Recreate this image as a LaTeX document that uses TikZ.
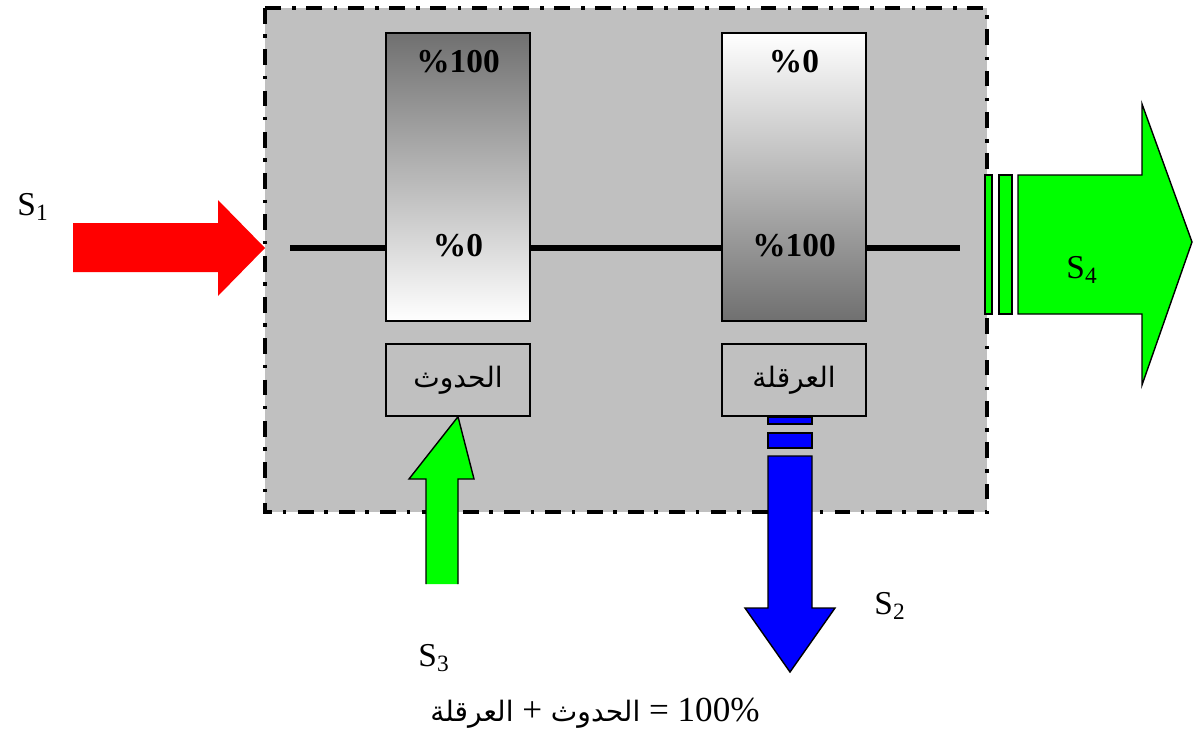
\documentclass[tikz,border=0pt]{standalone}
\usepackage{fontspec}
\setmainfont{Liberation Serif}
\newfontfamily\arabicfont[Script=Arabic]{DejaVu Sans}
\TeXXeTstate=1
\definecolor{boxgray}{RGB}{192,192,192}
\definecolor{bardark}{RGB}{112,112,112}
\definecolor{sgreen}{RGB}{0,255,0}
\definecolor{sred}{RGB}{255,0,0}
\definecolor{sblue}{RGB}{0,0,255}
\tikzset{
  frame/.style={fill=boxgray, draw=black, line width=2.3pt,
    dash pattern=on 9pt off 6pt on 2pt off 6.5pt},
  bar/.style={draw=black, line width=0.8pt},
  labelbox/.style={draw=black, line width=0.8pt, fill=boxgray, minimum width=144*0.02cm,
    minimum height=72*0.02cm, inner sep=0pt, font=\fontsize{16}{19}\selectfont\arabicfont},
  pct/.style={font=\fontsize{19}{22}\selectfont\bfseries, inner sep=0pt},
  flow/.style={draw=black, line width=0.8pt},
  slabel/.style={font=\fontsize{19}{22}\selectfont, inner sep=0pt},
}
\begin{document}
\begin{tikzpicture}[x=0.02cm,y=-0.02cm]
\useasboundingbox (0,0) rectangle (1193,740);
% system boundary
\path[frame] (265,8) rectangle (987,512);
% coordinates
\coordinate (lineL) at (290,248);
\coordinate (lineR) at (960,248);
\draw[line width=3.4pt] (lineL) -- (lineR);
% bars
\shade[top color=bardark, bottom color=white] (386,33) rectangle (530,321);
\draw[bar] (386,33) rectangle (530,321);
\shade[top color=white, bottom color=bardark] (722,33) rectangle (866,321);
\draw[bar] (722,33) rectangle (866,321);
\node[pct] (l100) at (458,62) {\%100};
\node[pct] (l0) at (458,246) {\%0};
\node[pct] (r0) at (794,62) {\%0};
\node[pct] (r100) at (794,246) {\%100};
% label boxes
\node[labelbox] (occ) at (458,380) {\beginR الحدوث\endR};
\node[labelbox] (inh) at (794,380) {\beginR العرقلة\endR};
% S1 red arrow
\coordinate (s1tip) at (265,248);
\fill[sred] (73,223) -- (218,223) -- (218,200) -- (s1tip) -- (218,296) -- (218,272) -- (73,272) -- cycle;
% S3 green arrow up
\fill[sgreen] (426,584) -- (426,479) -- (409,479) -- (occ.south) -- (474,479) -- (458,479) -- (458,584) -- cycle;
\draw[line width=0.8pt, line join=miter] (426,584) -- (426,479) -- (409,479) -- (occ.south) -- (474,479) -- (458,479) -- (458,584);
% S2 blue arrow down
\filldraw[flow, fill=sblue] (768,417) rectangle (812,424);
\filldraw[flow, fill=sblue] (768,433) rectangle (812,448);
\filldraw[flow, fill=sblue] (768,456) -- (812,456) -- (812,608) -- (835,608) -- (790,672) -- (745,608) -- (768,608) -- cycle;
% S4 green arrow right
\filldraw[flow, fill=sgreen] (985,175) rectangle (992,314);
\filldraw[flow, fill=sgreen] (999,175) rectangle (1012,314);
\filldraw[flow, fill=sgreen] (1018,175) -- (1142,175) -- (1142,104) -- (1192,242) -- (1142,385) -- (1142,314) -- (1018,314) -- cycle;
% labels
\node[slabel] (S1) at (33,207) {S\textsubscript{1}};
\node[slabel] (S4) at (1082,270) {S\textsubscript{4}};
\node[slabel] (S2) at (890,606) {S\textsubscript{2}};
\node[slabel] (S3) at (434,658) {S\textsubscript{3}};
\node[font=\fontsize{20}{24}\selectfont, inner sep=0pt] (eq) at (595,713)
  {{\arabicfont\fontsize{16}{19}\selectfont\beginR العرقلة\endR} + {\arabicfont\fontsize{16}{19}\selectfont\beginR الحدوث\endR} = 100\%};
\end{tikzpicture}
\end{document}
